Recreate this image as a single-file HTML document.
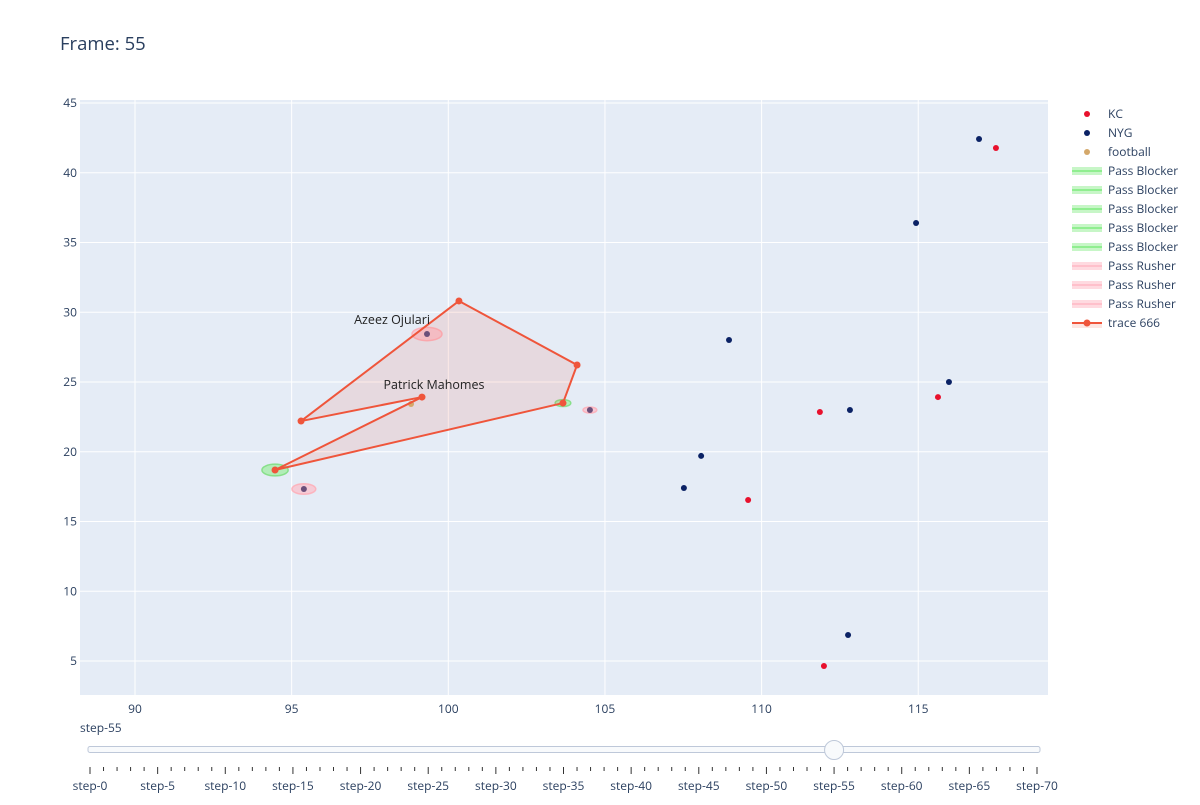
<!DOCTYPE html>
<html><head><meta charset="utf-8"><style>
body{margin:0;background:#fff;font-family:"Liberation Sans",Arial,sans-serif}
svg text{font-family:"Open Sans","Liberation Sans",Arial,sans-serif}
</style></head><body>
<svg id="chart" width="1200" height="800" xmlns="http://www.w3.org/2000/svg">
<rect width="1200" height="800" fill="#fff"/>
<text x="60" y="50" font-size="18.5" fill="#2a3f5f">Frame: 55</text>
<rect x="80" y="100" width="968" height="595" fill="#e5ecf6"/>
<g id="grid"></g><g id="marks"></g><g id="legend"></g><g id="slider"></g>
</svg>
<script>
const xTicks=[90,95,100,105,110,115];
const yTicks=[5,10,15,20,25,30,35,40,45];
const kcX=[117.48,115.63,111.86,109.57,111.99];
const kcY=[41.77,23.92,22.85,16.54,4.64];
const nygX=[116.94,114.93,115.98,112.82,108.96,108.07,107.52,112.76,99.32,95.39,104.52];
const nygY=[42.42,36.40,25.0,22.99,28.01,19.70,17.40,6.86,28.44,17.33,22.99];
const ballX=[98.81], ballY=[23.42];
const polyX=[100.34,104.11,103.66,94.47,99.16,95.30,100.34];
const polyY=[30.81,26.22,23.49,18.69,23.92,22.20,30.81];
const blockerX=[94.47,103.66], blockerY=[18.69,23.49], blockerR=[0.42,0.25];
const rusherX=[99.32,95.39,104.52], rusherY=[28.44,17.33,22.99], rusherR=[0.48,0.38,0.22];
const labels=[["Azeez Ojulari",99.32,28.44,-10,"end"],["Patrick Mahomes",99.16,23.92,-8,"middle"]];
const legendNames=["KC","NYG","football","Pass Blocker","Pass Blocker","Pass Blocker","Pass Blocker","Pass Blocker","Pass Rusher","Pass Rusher","Pass Rusher","trace 666"];
const stepCount=70, currentStep=55;
const NS="http://www.w3.org/2000/svg";
const X=v=>135+(v-90)*31.33, Y=v=>661-(v-5)*13.95;
function el(t,a,p){const e=document.createElementNS(NS,t);for(const k in a)e.setAttribute(k,a[k]);p.appendChild(e);return e;}
const grid=document.getElementById('grid'),marks=document.getElementById('marks'),leg=document.getElementById('legend'),sl=document.getElementById('slider');
xTicks.forEach(t=>{const g=el('line',{x1:X(t),x2:X(t),y1:100,y2:695,stroke:'#fff','stroke-width':1},grid);

const tx=el('text',{x:X(t),y:713,'text-anchor':'middle','font-size':12,fill:'#2a3f5f'},grid);tx.textContent=t;
});
yTicks.forEach(t=>{const g=el('line',{x1:80,x2:1048,y1:Y(t),y2:Y(t),stroke:'#fff','stroke-width':1},grid);

const tx=el('text',{x:77,y:Y(t)+4,'text-anchor':'end','font-size':12,fill:'#2a3f5f'},grid);tx.textContent=t;
});
blockerX.forEach((v,i)=>{const e=el('ellipse',{cx:X(v),cy:Y(blockerY[i]),rx:blockerR[i]*31.33,ry:blockerR[i]*13.95,fill:'rgba(144,238,144,0.6)',stroke:'rgba(120,220,120,0.8)','stroke-width':1.5},marks);
});
rusherX.forEach((v,i)=>{const e=el('ellipse',{cx:X(v),cy:Y(rusherY[i]),rx:rusherR[i]*31.33,ry:rusherR[i]*13.95,fill:'rgba(255,182,193,0.6)',stroke:'rgba(255,170,180,0.8)','stroke-width':1.5},marks);
});
const pts=polyX.map((v,i)=>X(v)+','+Y(polyY[i])).join(' ');
const pg=el('polygon',{points:pts,fill:'rgba(239,85,59,0.12)',stroke:'none'},marks);

kcX.forEach((v,i)=>{const c=el('circle',{cx:X(v),cy:Y(kcY[i]),r:3,fill:'#e8112d'},marks);
});
nygX.forEach((v,i)=>{const c=el('circle',{cx:X(v),cy:Y(nygY[i]),r:3,fill:(i>=8?'#6b4f7a':'#0b2265')},marks);
});
ballX.forEach((v,i)=>{const c=el('circle',{cx:X(v),cy:Y(ballY[i]),r:3,fill:'#d4a86a'},marks);
});
const pl=el('polyline',{points:pts,fill:'none',stroke:'#ef553b','stroke-width':2},marks);

polyX.slice(0,-1).forEach((v,i)=>{const c=el('circle',{cx:X(v),cy:Y(polyY[i]),r:3.5,fill:'#ef553b'},marks);
});
labels.forEach(l=>{const t=el('text',{x:X(l[1])+(l[4]=='end'?3:12),y:Y(l[2])+l[3],'text-anchor':l[4],'font-size':12.5,fill:'#222'},marks);t.textContent=l[0];
});
legendNames.forEach((n,i)=>{const y=114+i*19;
const g=el('g',{},leg);
if(i<3){el('circle',{cx:1087,cy:y,r:3,fill:['#e8112d','#0b2265','#d4a86a'][i]},g);}
else if(i<8){el('rect',{x:1072,y:y-4,width:30,height:8,fill:'rgba(144,238,144,0.5)'},g);el('line',{x1:1072,x2:1102,y1:y,y2:y,stroke:'#90ee90','stroke-width':2},g);}
else if(i<11){el('rect',{x:1072,y:y-4,width:30,height:8,fill:'rgba(255,182,193,0.5)'},g);el('line',{x1:1072,x2:1102,y1:y,y2:y,stroke:'#ffc0cb','stroke-width':2},g);}
else{el('rect',{x:1072,y:y,width:30,height:5,fill:'rgba(239,85,59,0.15)'},g);el('line',{x1:1072,x2:1102,y1:y,y2:y,stroke:'#ef553b','stroke-width':2},g);el('circle',{cx:1087,cy:y,r:3.5,fill:'#ef553b'},g);}
const t=el('text',{x:1108,y:y+4,'font-size':12,fill:'#2a3f5f'},g);t.textContent=n;});
const cl=el('text',{x:80,y:732,'font-size':12,fill:'#2a3f5f'},sl);cl.textContent='step-'+currentStep;

const rail=el('rect',{x:88,y:746.5,width:952,height:6,rx:2,fill:'#f8fafc',stroke:'#bec8d9','stroke-width':1},sl);

const SX=s=>90+s*(947/stepCount);
for(let s=0;s<=stepCount;s++){const major=s%5==0;
const tk=el('line',{x1:SX(s),x2:SX(s),y1:767,y2:major?774:771,stroke:'#333','stroke-width':1},sl);

if(major){const t=el('text',{x:SX(s),y:790,'text-anchor':'middle','font-size':12,fill:'#2a3f5f'},sl);t.textContent='step-'+s;
}}
const h=el('circle',{cx:SX(currentStep),cy:750,r:9.5,fill:'#f8fafc',stroke:'#bec8d9','stroke-width':1},sl);

</script>
</body></html>
